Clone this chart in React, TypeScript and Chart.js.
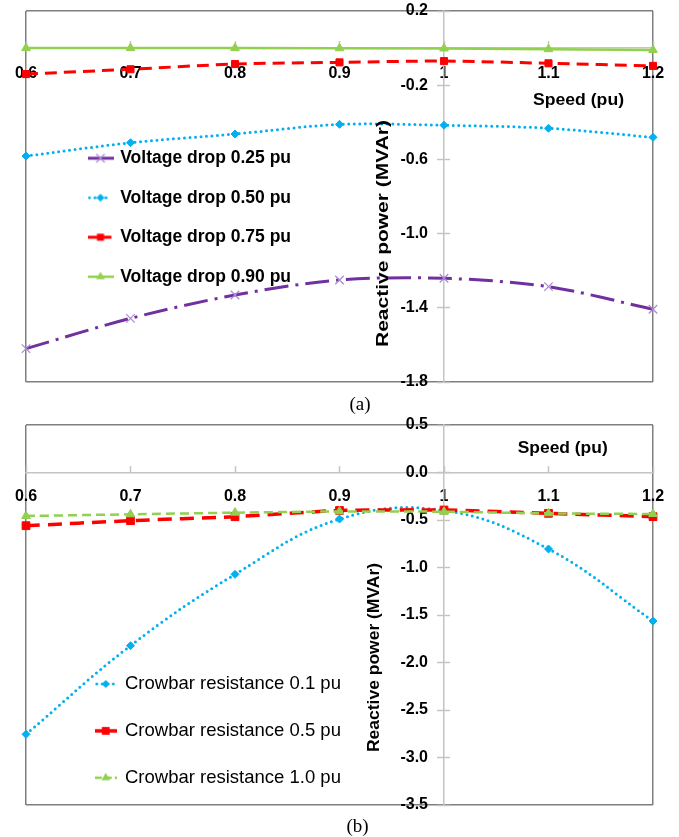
import React, { useEffect, useRef } from 'react';
import { Chart, registerables } from 'chart.js';

Chart.register(...registerables);

// ---------------- data ----------------
const speeds = [0.6, 0.7, 0.8, 0.9, 1.0, 1.1, 1.2];

const voltageDropLabels = ['Voltage drop 0.25 pu', 'Voltage drop 0.50 pu', 'Voltage drop 0.75 pu', 'Voltage drop 0.90 pu'];
const qDrop025 = [-1.62, -1.457, -1.331, -1.25, -1.241, -1.286, -1.408];
const qDrop050 = [-0.582, -0.51, -0.463, -0.411, -0.416, -0.432, -0.481];
const qDrop075 = [-0.14, -0.114, -0.086, -0.077, -0.07, -0.082, -0.096];
const qDrop090 = [0.0, 0.0, 0.0, -0.001, -0.002, -0.006, -0.01];
const yTicksA = [-1.8, -1.4, -1.0, -0.6, -0.2, 0.2];

const crowbarLabels = ['Crowbar resistance 0.1 pu', 'Crowbar resistance 0.5 pu', 'Crowbar resistance 1.0 pu'];
const qCrowbar01 = [-2.756, -1.823, -1.072, -0.49, -0.4, -0.805, -1.563];
const qCrowbar05 = [-0.56, -0.507, -0.465, -0.4, -0.395, -0.43, -0.465];
const qCrowbar10 = [-0.458, -0.44, -0.423, -0.41, -0.413, -0.43, -0.437];
const yTicksB = [-3.5, -3.0, -2.5, -2.0, -1.5, -1.0, -0.5, 0.0, 0.5];

const xTitle = 'Speed (pu)';
const yTitle = 'Reactive power (MVAr)';
const captionA = '(a)';
const captionB = '(b)';

// axis crossing points
const yAxisAtSpeed = 1.0;
const xAxisAtQ = 0;
// where the right edge of the value labels sits (a little left of the axis)
const yLabelAnchorSpeed = 0.9847;

// ---------------- styles ----------------
const SANS = "'Liberation Sans', Arial, Helvetica, sans-serif";
const SERIF = "'Liberation Serif', 'Times New Roman', serif";
const FRAME = '#7f7f7f';
const AXIS = '#c4c4c4';
const NONE = 'rgba(0,0,0,0)';
const PURPLE = '#7030A0';
const BLUE = '#00B0F0';
const RED = '#FF0000';
const GREEN = '#92D050';

type SeriesStyle = {
  color: string; width: number; dash: number[]; cap: CanvasLineCap;
  marker: string; radius: number; markerColor: string; tension: number;
  keyDash: number[];
};

const stylesA: SeriesStyle[] = [
  { color: PURPLE, width: 3, dash: [24, 7, 3, 7], cap: 'butt', marker: 'crossRot', radius: 6, markerColor: '#A98CD2', tension: 0.3, keyDash: [] },
  { color: BLUE, width: 3, dash: [0, 5.5], cap: 'round', marker: 'rectRot', radius: 4, markerColor: BLUE, tension: 0.3, keyDash: [0, 5.5] },
  { color: RED, width: 3, dash: [12, 7], cap: 'butt', marker: 'rect', radius: 5, markerColor: RED, tension: 0.3, keyDash: [10, 4] },
  { color: GREEN, width: 2.5, dash: [], cap: 'butt', marker: 'triangle', radius: 5, markerColor: GREEN, tension: 0, keyDash: [] },
];

const stylesB: SeriesStyle[] = [
  { color: BLUE, width: 3, dash: [0, 5.5], cap: 'round', marker: 'rectRot', radius: 4, markerColor: BLUE, tension: 0.4, keyDash: [0, 5.5] },
  { color: RED, width: 3.5, dash: [14, 8], cap: 'butt', marker: 'rect', radius: 5.5, markerColor: RED, tension: 0.2, keyDash: [9, 4] },
  { color: GREEN, width: 2.5, dash: [9, 5], cap: 'butt', marker: 'triangle', radius: 5, markerColor: GREEN, tension: 0.2, keyDash: [7, 3] },
];

function drawKeyMarker(g: CanvasRenderingContext2D, style: string, cx: number, cy: number, r: number, color: string) {
  g.fillStyle = color;
  g.strokeStyle = color;
  g.setLineDash([]);
  g.beginPath();
  if (style === 'crossRot') {
    const d = r * 0.707;
    g.lineWidth = 1.3;
    g.moveTo(cx - d, cy - d); g.lineTo(cx + d, cy + d);
    g.moveTo(cx + d, cy - d); g.lineTo(cx - d, cy + d);
    g.stroke();
    return;
  }
  if (style === 'rectRot') {
    g.moveTo(cx, cy - r); g.lineTo(cx + r, cy); g.lineTo(cx, cy + r); g.lineTo(cx - r, cy);
  } else if (style === 'rect') {
    const s = r * 0.707;
    g.rect(cx - s, cy - s, 2 * s, 2 * s);
  } else {
    g.moveTo(cx, cy - r); g.lineTo(cx + r * 0.866, cy + r * 0.5); g.lineTo(cx - r * 0.866, cy + r * 0.5);
  }
  g.closePath();
  g.fill();
}

function makeKey(s: SeriesStyle, w: number): HTMLCanvasElement {
  const c = document.createElement('canvas');
  c.width = w;
  c.height = 16;
  const g = c.getContext('2d') as CanvasRenderingContext2D;
  g.strokeStyle = s.color;
  g.lineWidth = s.width;
  g.lineCap = s.cap;
  g.setLineDash(s.keyDash);
  g.beginPath();
  g.moveTo(s.cap === 'round' ? 2 : 0, 8);
  g.lineTo(s.cap === 'round' ? w - 2 : w, 8);
  g.stroke();
  drawKeyMarker(g, s.marker, w / 2, 8, s.radius, s.markerColor);
  return c;
}

function makeDataset(label: string, ys: number[], s: SeriesStyle, order: number) {
  return {
    label,
    xAxisID: 'x',
    yAxisID: 'y',
    data: speeds.map((x, i) => ({ x, y: ys[i] })),
    borderColor: s.color,
    backgroundColor: s.color,
    borderWidth: s.width,
    borderDash: s.dash,
    borderCapStyle: s.cap,
    pointStyle: s.marker,
    pointRadius: s.radius,
    pointBackgroundColor: s.markerColor,
    pointBorderColor: s.markerColor,
    pointBorderWidth: s.marker === 'crossRot' ? 1.3 : 1,
    tension: s.tension,
    fill: false,
    clip: false,
    order,
  };
}

type Title = { text: string; x: number; y: number; rotate: boolean; length: number; font: string };

type ChartSpec = {
  names: string[];
  series: number[][];
  styles: SeriesStyle[];
  yTicks: number[];
  padding: { left: number; right: number; top: number; bottom: number };
  xLabelOffset: number;
  keyWidth: number;
  keyBox: number;
  legendFont: { family: string; size: number; weight: string };
  legendPad: number;
  legendLeft: number;
  legendTop: number;
  titles: Title[];
};

function buildConfig(spec: ChartSpec): any {
  const tickFont = { family: SANS, size: 16, weight: 'bold' as const };
  const keys = spec.styles.map((s) => makeKey(s, spec.keyWidth));
  const n = spec.series.length;
  const datasets = spec.series.map((ys, i) => makeDataset(spec.names[i], ys, spec.styles[i], n - i));
  const yMin = spec.yTicks[0];
  const yMax = spec.yTicks[spec.yTicks.length - 1];
  const xTicksHook = (s: any) => { s.ticks = speeds.map((v) => ({ value: v })); };
  const yTicksHook = (s: any) => { s.ticks = spec.yTicks.map((v) => ({ value: v })); };
  const isEdge = (c: any, len: number) => c.index === 0 || c.index === len - 1;

  // tick-mark-only scales (no labels) for the cross ticks on the axes
  const markScale = (axis: 'x' | 'y', position: any, length: number) => ({
    axis,
    type: 'linear',
    min: axis === 'x' ? speeds[0] : yMin,
    max: axis === 'x' ? speeds[speeds.length - 1] : yMax,
    position,
    afterBuildTicks: axis === 'x' ? xTicksHook : yTicksHook,
    ticks: { display: false },
    grid: { drawOnChartArea: false, drawTicks: true, tickLength: length, tickColor: AXIS, tickWidth: 1.5 },
    border: { display: false },
  });

  const placePlugin = {
    id: 'placeLegendAndTitles',
    afterLayout(chart: any) {
      const lg = chart.legend;
      if (lg) {
        lg.left = spec.legendLeft;
        lg.top = spec.legendTop;
        lg.right = chart.width;
        lg.bottom = chart.height;
      }
    },
    afterDraw(chart: any) {
      const ctx = chart.ctx as CanvasRenderingContext2D;
      for (const t of spec.titles) {
        ctx.save();
        ctx.font = t.font;
        ctx.fillStyle = '#000';
        ctx.textAlign = 'center';
        ctx.textBaseline = 'middle';
        ctx.translate(t.x, t.y);
        if (t.rotate) ctx.rotate(-Math.PI / 2);
        const w = ctx.measureText(t.text).width;
        if (t.length > 0 && w > 0) ctx.scale(t.length / w, 1);
        ctx.fillText(t.text, 0, 0);
        ctx.restore();
      }
    },
  };

  return {
    type: 'line',
    data: { datasets },
    plugins: [placePlugin],
    options: {
      animation: false,
      responsive: false,
      maintainAspectRatio: false,
      devicePixelRatio: 1,
      events: [],
      layout: { padding: spec.padding },
      scales: {
        x: {
          axis: 'x',
          type: 'linear',
          min: speeds[0],
          max: speeds[speeds.length - 1],
          position: { y: xAxisAtQ },
          afterBuildTicks: xTicksHook,
          ticks: {
            callback: (v: any) => String(Number(Number(v).toFixed(1))),
            font: tickFont,
            color: '#000',
            padding: 0,
            maxRotation: 0,
            autoSkip: false,
          },
          grid: {
            color: (c: any) => (isEdge(c, speeds.length) ? FRAME : NONE),
            lineWidth: 1.5,
            drawTicks: true,
            tickLength: spec.xLabelOffset,
            tickColor: NONE,
          },
          border: { display: true, color: AXIS, width: 1.5 },
        },
        y: {
          axis: 'y',
          type: 'linear',
          min: yMin,
          max: yMax,
          position: { x: yLabelAnchorSpeed },
          afterBuildTicks: yTicksHook,
          ticks: {
            callback: (v: any) => Number(v).toFixed(1),
            font: tickFont,
            color: '#000',
            padding: 0,
            autoSkip: false,
          },
          grid: {
            color: (c: any) => (isEdge(c, spec.yTicks.length) ? FRAME : NONE),
            lineWidth: 1.5,
            drawTicks: false,
          },
          border: { display: false },
        },
        xMarks: markScale('x', { y: xAxisAtQ }, -7),
        yAxisLine: {
          ...markScale('y', { x: yAxisAtSpeed }, 6),
          border: { display: true, color: AXIS, width: 1.5 },
        },
        yMarksRight: markScale('y', { x: yAxisAtSpeed }, -6),
      },
      plugins: {
        tooltip: { enabled: false },
        title: { display: false },
        legend: {
          display: true,
          position: 'chartArea',
          align: 'start',
          labels: {
            usePointStyle: true,
            pointStyleWidth: spec.keyBox,
            boxHeight: 14,
            padding: spec.legendPad,
            font: spec.legendFont,
            color: '#000',
            generateLabels: () =>
              spec.names.map((name, i) => ({
                text: name,
                pointStyle: keys[i],
                datasetIndex: i,
                hidden: false,
                fontColor: '#000',
                lineWidth: 0,
                strokeStyle: NONE,
                fillStyle: NONE,
              })),
          },
        },
      },
    },
  };
}

const specA = (): ChartSpec => ({
  names: voltageDropLabels,
  series: [qDrop025, qDrop050, qDrop075, qDrop090],
  styles: stylesA,
  yTicks: yTicksA,
  padding: { left: 26, right: 26, top: 11, bottom: 18 },
  xLabelOffset: 16.2,
  keyWidth: 26,
  keyBox: 22,
  legendFont: { family: SANS, size: 17.5, weight: 'bold' },
  legendPad: 22,
  legendLeft: 67.5,
  legendTop: 127.5,
  titles: [
    { text: xTitle, x: 578.5, y: 100, rotate: false, length: 91, font: `bold 17px ${SANS}` },
    { text: yTitle, x: 383, y: 233.5, rotate: true, length: 227, font: `bold 17px ${SANS}` },
  ],
});

const specB = (): ChartSpec => ({
  names: crowbarLabels,
  series: [qCrowbar01, qCrowbar05, qCrowbar10],
  styles: stylesB,
  yTicks: yTicksB,
  padding: { left: 26, right: 26, top: 15, bottom: 32 },
  xLabelOffset: 14.6,
  keyWidth: 22,
  keyBox: 20,
  legendFont: { family: SANS, size: 18.5, weight: 'normal' },
  legendPad: 28.35,
  legendLeft: 67.4,
  legendTop: 236.4,
  titles: [
    { text: xTitle, x: 562.7, y: 38.3, rotate: false, length: 90, font: `bold 17px ${SANS}` },
    { text: yTitle, x: 374.7, y: 247.5, rotate: true, length: 189, font: `bold 17px ${SANS}` },
  ],
});

function ChartBox({ make, top, height }: { make: () => ChartSpec; top: number; height: number }) {
  const ref = useRef<HTMLCanvasElement | null>(null);
  useEffect(() => {
    if (!ref.current) return;
    const chart = new Chart(ref.current, buildConfig(make()));
    return () => chart.destroy();
  }, []);
  return (
    <canvas
      ref={ref}
      width={679}
      height={height}
      style={{ position: 'absolute', left: 0, top, width: 679, height, display: 'block' }}
    />
  );
}

function Caption({ text, cx, cy }: { text: string; cx: number; cy: number }) {
  return (
    <div
      style={{
        position: 'absolute',
        left: cx - 50,
        top: cy - 11,
        width: 100,
        height: 22,
        lineHeight: '22px',
        textAlign: 'center',
        fontFamily: SERIF,
        fontSize: 19,
        color: '#000',
      }}
    >
      {text}
    </div>
  );
}

export default function App() {
  return (
    <div style={{ position: 'fixed', left: 0, top: 0, width: 679, height: 837, background: '#fff', overflow: 'hidden' }}>
      <ChartBox make={specA} top={0} height={400} />
      <ChartBox make={specB} top={410} height={427} />
      <Caption text={captionA} cx={360} cy={404} />
      <Caption text={captionB} cx={357.5} cy={826} />
    </div>
  );
}
